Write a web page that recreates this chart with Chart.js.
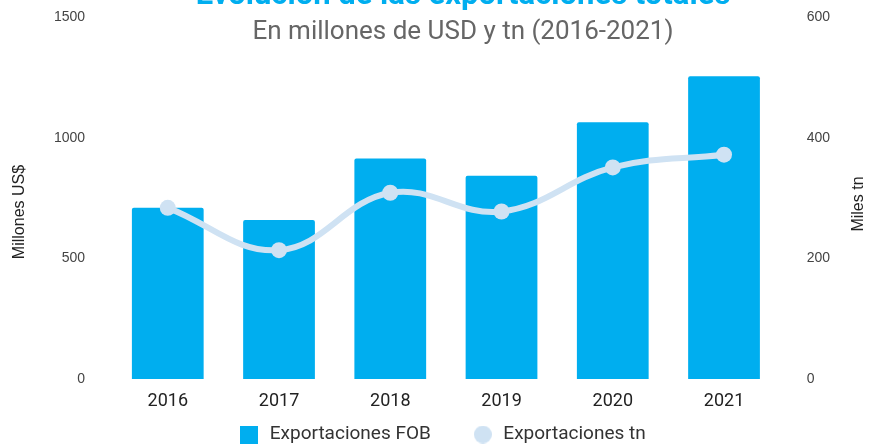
<!DOCTYPE html>
<html>
<head>
<meta charset="utf-8">
<script src="https://cdn.jsdelivr.net/npm/chart.js@4"></script>
<style>
  html, body { margin:0; padding:0; background:#fff; }
  #wrap { width:869px; height:444px; position:relative; }
</style>
</head>
<body>
<div id="wrap"><canvas id="chart"></canvas></div>
<script>
const ANIOS = ["2016","2017","2018","2019","2020","2021"];
const FOB_MUSD = [710, 660, 914, 843, 1064, 1255];
const MILES_TN = [284, 214, 309, 278, 351, 372];
const TITULO = "Evolución de las exportaciones totales";
const SUBTITULO = "En millones de USD y tn (2016-2021)";

const AZUL = "#00aeef";
const CELESTE = "#cfe2f3";

// iconos de la leyenda, mismo tamaño para los dos
function icono(tipo, color) {
  const c = document.createElement("canvas");
  c.width = 18; c.height = 18;
  const g = c.getContext("2d");
  g.fillStyle = color;
  if (tipo === "rect") g.fillRect(0, 0, 18, 18);
  else { g.beginPath(); g.arc(9, 9, 9, 0, Math.PI * 2); g.fill(); }
  return c;
}
const ICONO_FOB = icono("rect", AZUL);
const ICONO_TN = icono("circle", CELESTE);

// titulo (cortado arriba como en el original) y titulos de ejes
const textosPlugin = {
  id: "textosPlugin",
  afterLayout(chart) {
    // la leyenda usa padding grande para separar los items; la bajo al borde
    chart.legend.top = chart.height - 60;
  },
  afterDraw(chart) {
    const ctx = chart.ctx;
    ctx.save();
    ctx.textAlign = "center";
    ctx.textBaseline = "alphabetic";
    ctx.fillStyle = AZUL;
    ctx.font = "bold 31px Roboto, sans-serif";
    ctx.fillText(TITULO, 463, 4);
    ctx.fillStyle = "#666666";
    ctx.font = "26px Roboto, sans-serif";
    ctx.fillText(SUBTITULO, 463, 39);

    ctx.fillStyle = "#222";
    ctx.font = "16px Liberation Sans, Arial, sans-serif";
    ctx.textBaseline = "middle";
    ctx.translate(20, 212);
    ctx.rotate(-Math.PI / 2);
    ctx.fillText("Millones US$", 0, 0);
    ctx.setTransform(1, 0, 0, 1, 0, 0);
    ctx.translate(859, 204);
    ctx.rotate(-Math.PI / 2);
    ctx.fillText("Miles tn", 0, 0);
    ctx.restore();
  }
};

Chart.defaults.font.family = "Liberation Sans, Arial, sans-serif";

// marcas de eje invisibles: separan las etiquetas sin agrandar el margen de arriba
const gridOculto = { display: true, color: "transparent", drawOnChartArea: false, tickLength: 25 };

new Chart(document.getElementById("chart"), {
  type: "bar",
  data: {
    labels: ANIOS,
    datasets: [
      {
        label: "Exportaciones FOB",
        data: FOB_MUSD,
        backgroundColor: AZUL,
        borderRadius: 2,
        categoryPercentage: 0.645,
        barPercentage: 1,
        yAxisID: "y",
        order: 1
      },
      {
        type: "line",
        label: "Exportaciones tn",
        data: MILES_TN,
        borderColor: CELESTE,
        backgroundColor: CELESTE,
        borderWidth: 6,
        pointRadius: 8,
        pointBorderWidth: 0,
        tension: 0.4,
        yAxisID: "y1",
        order: 0,
        pointStyle: "circle"
      }
    ]
  },
  options: {
    responsive: true,
    maintainAspectRatio: false,
    animation: false,
    layout: { padding: { top: 17, left: 52, right: 37, bottom: 0 } },
    plugins: {
      legend: {
        position: "bottom",
        maxHeight: 29,
        labels: {
          usePointStyle: true,
          pointStyleWidth: 22,
          boxHeight: 18,
          padding: 41,
          color: "#333",
          font: { size: 19, family: "Roboto, sans-serif" },
          sort: (a, b) => a.datasetIndex - b.datasetIndex,
          generateLabels(chart) {
            const items = Chart.defaults.plugins.legend.labels.generateLabels(chart);
            items.forEach(it => { it.pointStyle = it.datasetIndex === 0 ? ICONO_FOB : ICONO_TN; });
            return items;
          }
        }
      },
      tooltip: { enabled: false }
    },
    scales: {
      x: {
        grid: { display: false },
        border: { display: false },
        ticks: { color: "#222", font: { size: 18, family: "Roboto, sans-serif" }, padding: 3 }
      },
      y: {
        position: "left",
        min: 0, max: 1500,
        ticks: { stepSize: 500, color: "#444", font: { size: 14 }, padding: 2, callback: v => v },
        grid: gridOculto,
        border: { display: false }
      },
      y1: {
        position: "right",
        min: 0, max: 600,
        ticks: { stepSize: 200, color: "#444", font: { size: 14 }, padding: 2, callback: v => v },
        grid: gridOculto,
        border: { display: false }
      }
    }
  },
  plugins: [textosPlugin]
});
</script>
</body>
</html>
